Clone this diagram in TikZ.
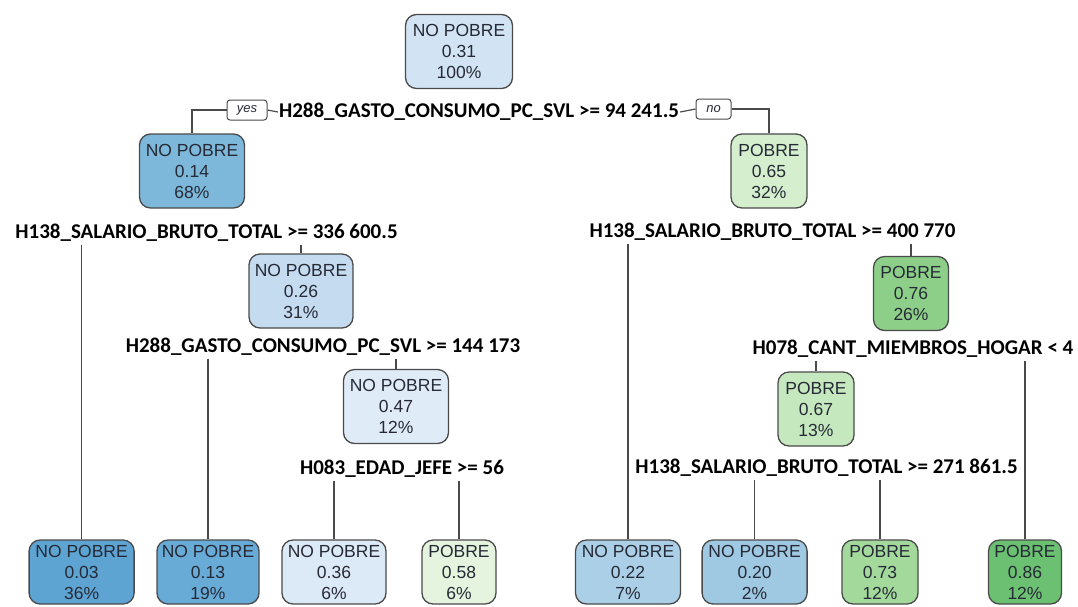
\documentclass[tikz,border=0pt]{standalone}
\usepackage{fontspec}
\setmainfont{Liberation Sans}
\newfontfamily\labfont{Carlito}
\definecolor{txt}{HTML}{262A36}
\definecolor{edge}{HTML}{4A4A4A}
\definecolor{cA}{HTML}{D2E3F3}
\definecolor{cB}{HTML}{7DB8DB}
\definecolor{cC}{HTML}{D4EECE}
\definecolor{cD}{HTML}{C5DBF0}
\definecolor{cE}{HTML}{DFEBF7}
\definecolor{cF}{HTML}{8DCF89}
\definecolor{cG}{HTML}{C6E8BF}
\definecolor{l1}{HTML}{5DA4D2}
\definecolor{l2}{HTML}{68ABD6}
\definecolor{l3}{HTML}{DCE9F6}
\definecolor{l4}{HTML}{E4F4DE}
\definecolor{l5}{HTML}{AACFE6}
\definecolor{l6}{HTML}{9FC9E2}
\definecolor{l7}{HTML}{A3DA9C}
\definecolor{l8}{HTML}{6CC071}
\tikzset{
  treebox/.style={draw=edge, line width=1.3pt, rounded corners=11pt, align=center,
    text=txt, font=\fontsize{17.5}{21}\selectfont, inner sep=0pt, minimum height=74pt},
  leafbox/.style={treebox, minimum height=64pt},
  splitlab/.style={font=\labfont\bfseries\fontsize{21}{24}\selectfont, text=black,
    inner xsep=1pt, inner ysep=2.5pt, text height=14pt, text depth=4pt},
  tagbox/.style={draw=edge, line width=1pt, rounded corners=3pt, fill=white,
    font=\itshape\fontsize{13}{14}\selectfont, text=txt, inner sep=0pt,
    minimum height=20pt},
  conn/.style={draw=edge, line width=1.2pt}
}
\begin{document}
\begin{tikzpicture}[x=1pt,y=-1pt]
\useasboundingbox (0,0) rectangle (1078,606);
% internal nodes
\node[treebox, fill=cA, minimum width=107pt] (root) at (459,51.5) {NO POBRE\\0.31\\100\%};
\node[treebox, fill=cB, minimum width=105pt] (c1) at (192,171) {NO POBRE\\0.14\\68\%};
\node[treebox, fill=cC, minimum width=76pt] (c2) at (769,171) {POBRE\\0.65\\32\%};
\node[treebox, fill=cD, minimum width=104pt] (n26) at (301,291) {NO POBRE\\0.26\\31\%};
\node[treebox, fill=cE, minimum width=105pt] (n47) at (396,406.5) {NO POBRE\\0.47\\12\%};
\node[treebox, fill=cF, minimum width=75pt] (n76) at (911,293.5) {POBRE\\0.76\\26\%};
\node[treebox, fill=cG, minimum width=76pt] (n67) at (816,409) {POBRE\\0.67\\13\%};
% leaves
\node[leafbox, fill=l1, minimum width=105pt] (f1) at (81.6,572) {NO POBRE\\0.03\\36\%};
\node[leafbox, fill=l2, minimum width=102pt] (f2) at (208,572) {NO POBRE\\0.13\\19\%};
\node[leafbox, fill=l3, minimum width=104pt] (f3) at (334,572) {NO POBRE\\0.36\\6\%};
\node[leafbox, fill=l4, minimum width=74pt] (f4) at (459,572) {POBRE\\0.58\\6\%};
\node[leafbox, fill=l5, minimum width=105pt] (f5) at (628,572) {NO POBRE\\0.22\\7\%};
\node[leafbox, fill=l6, minimum width=105pt] (f6) at (754.6,572) {NO POBRE\\0.20\\2\%};
\node[leafbox, fill=l7, minimum width=76pt] (f7) at (880,572) {POBRE\\0.73\\12\%};
\node[leafbox, fill=l8, minimum width=73pt] (f8) at (1025,572) {POBRE\\0.86\\12\%};
% split labels
\node[splitlab] (s1) at (479,112) {H288\_GASTO\_CONSUMO\_PC\_SVL >= 94 241.5};
\node[splitlab] (s2) at (206.5,233) {H138\_SALARIO\_BRUTO\_TOTAL >= 336 600.5};
\node[splitlab] (s3) at (323,347.5) {H288\_GASTO\_CONSUMO\_PC\_SVL >= 144 173};
\node[splitlab] (s4) at (402,469) {H083\_EDAD\_JEFE >= 56};
\node[splitlab] (s5) at (772.5,232.5) {H138\_SALARIO\_BRUTO\_TOTAL >= 400 770};
\node[splitlab] (s6) at (913,349) {H078\_CANT\_MIEMBROS\_HOGAR < 4};
\node[splitlab] (s7) at (826.5,468) {H138\_SALARIO\_BRUTO\_TOTAL >= 271 861.5};
% yes / no tags
\node[tagbox, minimum width=40pt] (yes) at (247,110) {yes};
\node[tagbox, minimum width=35pt] (no) at (713.5,109) {no};
% connectors
\draw[conn] (yes.west) -| (c1.north);
\draw[conn] (yes.east) -- (s1.west);
\draw[conn] (s1.east) -- (no.west);
\draw[conn] (no.east) -| (c2.north);
\draw[conn] (f1.north) -- (f1.north |- s2.south);
\draw[conn] (n26.north) -- (n26.north |- s2.south);
\draw[conn] (f2.north) -- (f2.north |- s3.south);
\draw[conn] (n47.north) -- (n47.north |- s3.south);
\draw[conn] (f3.north) -- (f3.north |- s4.south);
\draw[conn] (f4.north) -- (f4.north |- s4.south);
\draw[conn] (f5.north) -- (f5.north |- s5.south);
\draw[conn] (n76.north) -- (n76.north |- s5.south);
\draw[conn] (n67.north) -- (n67.north |- s6.south);
\draw[conn] (f8.north) -- (f8.north |- s6.south);
\draw[conn] (f6.north) -- (f6.north |- s7.south);
\draw[conn] (f7.north) -- (f7.north |- s7.south);
\end{tikzpicture}
\end{document}
